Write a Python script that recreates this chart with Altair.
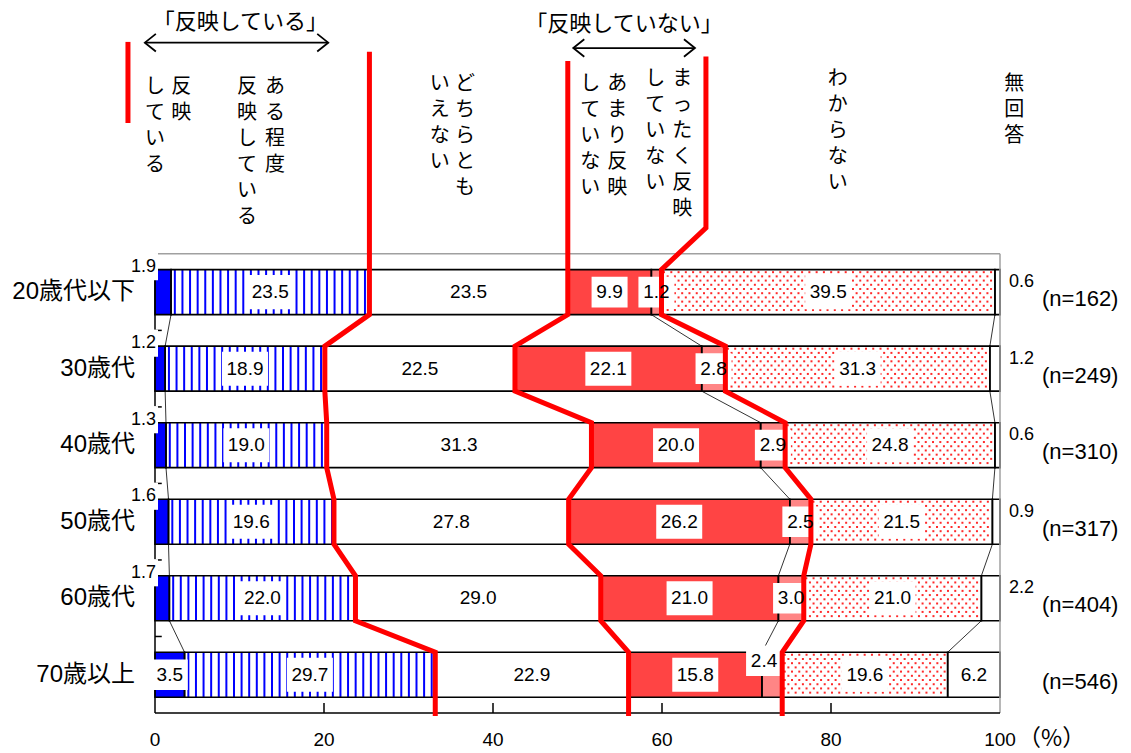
import altair as alt
import numpy as np
import pandas as pd

# ---------------- data ----------------
groups = ["20歳代以下", "30歳代", "40歳代", "50歳代", "60歳代", "70歳以上"]
n_labels = ["(n=162)", "(n=249)", "(n=310)", "(n=317)", "(n=404)", "(n=546)"]
categories = ["反映している", "ある程度反映している", "どちらともいえない",
              "あまり反映していない", "まったく反映していない", "わからない", "無回答"]
hanei = [1.9, 1.2, 1.3, 1.6, 1.7, 3.5]
aru_teido = [23.5, 18.9, 19.0, 19.6, 22.0, 29.7]
dochira = [23.5, 22.5, 31.3, 27.8, 29.0, 22.9]
amari = [9.9, 22.1, 20.0, 26.2, 21.0, 15.8]
mattaku = [1.2, 2.8, 2.9, 2.5, 3.0, 2.4]
wakaranai = [39.5, 31.3, 24.8, 21.5, 21.0, 19.6]
mukaitou = [0.6, 1.2, 0.6, 0.9, 2.2, 6.2]
x_ticks = [0, 20, 40, 60, 80, 100]
bracket_labels = ["「反映している」", "「反映していない」"]
header_columns = ["反映", "している", "ある程度", "反映している", "どちらとも", "いえない",
                  "あまり反映", "していない", "まったく反映", "していない", "わからない", "無回答"]
percent_label = "（%）"

series = [hanei, aru_teido, dochira, amari, mattaku, wakaranai, mukaitou]

# ---------------- layout / style ----------------
FONT = "Liberation Sans, Noto Sans CJK JP"
CJK = "Noto Sans CJK JP"
FILLS = ["#0000ff", "#ffffff", "#ffffff", "#ff4444", "#ff8585", "#ffffff", "#ffffff"]
BAR_TOP, BAR_BOT = 0.206, 0.794
STRIPE_STEP = 0.9            # % units between stripes
DOT_DX, DOT_DY = 0.86, 0.055   # dot lattice of the "わからない" pattern
header_x = [3.1, 0.0, 14.2, 10.9, 36.7, 33.7, 54.7, 51.5, 62.4, 59.2, 80.8, 101.7]
header_y = [-2.31, -2.31, -2.31, -2.31, -2.35, -2.35, -2.35, -2.35, -2.42, -2.42, -2.42, -2.35]
bracket_x = [10.1, 55.5]
bracket_y = [-3.03, -3.0]
arrow_x1 = [-1.2, 49.5]
arrow_x2 = [20.5, 63.9]
arrow_y = [-2.76, -2.69]
line_tops = [-2.64, -2.52, -2.58]
line_d_head_x = 65.2
line_d_bend_y = -0.34
line_bottom = 6.04
marker_x, marker_y1, marker_y2 = -3.2, -2.77, -1.71

# ---------------- derived tables ----------------
rows = []
for i, g in enumerate(groups):
    vals = [s[i] for s in series]
    tot = sum(vals)
    c = 0.0
    for k, cat in enumerate(categories):
        v = vals[k]
        st = c / tot * 100
        c += v
        en = c / tot * 100
        if k == 0 and i < 5:
            place = "topleft"
        elif k == 6 and i < 5:
            place = "right"
        elif k == 4 and i == 5:
            place = "above"
        else:
            place = "in"
        lab = f"{v:.1f}"
        rows.append(dict(group=g, row=i, cat=cat, k=k, value=v, start=st, end=en,
                         mid=(st + en) / 2, y0=i + BAR_TOP, y1=i + BAR_BOT, yc=i + 0.5,
                         label=lab, place=place, nch=len(lab)))
seg = pd.DataFrame(rows)

# vertical stripes ("ある程度反映している")
stripes = []
for _, r in seg[seg.k == 1].iterrows():
    for sx in np.arange(r.start + 0.45, r.end - 0.2, STRIPE_STEP):
        stripes.append(dict(sx=float(sx), y0=r.y0, y1=r.y1))
stripes = pd.DataFrame(stripes)

# dot texture ("わからない")
dots = []
for _, r in seg[seg.k == 5].iterrows():
    nrow = int((r.y1 - r.y0) / DOT_DY)
    for j in range(nrow):
        yy = r.y0 + (j + 0.6) * DOT_DY
        off = (j % 2) * DOT_DX / 2
        for xx in np.arange(r.start + 0.3 + off, r.end - 0.2, DOT_DX):
            dots.append(dict(dx_=float(xx), dy_=float(yy)))
dots = pd.DataFrame(dots)

# thin connector lines between adjacent bars
conn = []
for k in range(6):
    e = seg[seg.k == k].sort_values("row").end.values
    for i in range(len(groups) - 1):
        conn.append(dict(xa=float(e[i]), ya=i + BAR_BOT, xb=float(e[i + 1]), yb=i + 1 + BAR_TOP))
conn = pd.DataFrame(conn)

# red guide lines
b_low = seg[seg.k == 1].sort_values("row").end.values
b_mid = seg[seg.k == 2].sort_values("row").end.values
b_high = seg[seg.k == 4].sort_values("row").end.values
red = []


def add_path(name, bounds, head):
    pts = list(head)
    for i, b in enumerate(bounds):
        pts += [(float(b), i + BAR_TOP), (float(b), i + BAR_BOT)]
    pts.append((float(bounds[-1]), line_bottom))
    for o, (x, y) in enumerate(pts):
        red.append(dict(line=name, o=o, x=float(x), y=float(y)))


add_path("B", b_low, [(b_low[0], line_tops[0])])
add_path("C", b_mid, [(b_mid[0], line_tops[1])])
add_path("D", b_high, [(line_d_head_x, line_tops[2]), (line_d_head_x, line_d_bend_y)])
red.append(dict(line="A", o=0, x=marker_x, y=marker_y1))
red.append(dict(line="A", o=1, x=marker_x, y=marker_y2))
red = pd.DataFrame(red)

# plot frame, axis lines and ticks
frame = [dict(x=0, x2=100, y=0, y2=0, c="#a0a0a0"), dict(x=100, x2=100, y=0, y2=6, c="#a0a0a0"),
         dict(x=0, x2=0, y=0, y2=6, c="black"), dict(x=0, x2=100, y=6, y2=6, c="black")]
for t in range(1, 6):
    frame.append(dict(x=0, x2=0.8, y=t, y2=t, c="black"))
for t in x_ticks[1:-1]:
    frame.append(dict(x=t, x2=t, y=5.87, y2=6, c="black"))
frame = pd.DataFrame(frame)

ticks = pd.DataFrame(dict(t=x_ticks, lab=[str(t) for t in x_ticks], y=[6] * len(x_ticks)))
header = pd.DataFrame(dict(text=["\n".join(list(h)) for h in header_columns], x=header_x, y=header_y))
brackets = pd.DataFrame(dict(text=bracket_labels, x=bracket_x, y=bracket_y))
arrows = pd.DataFrame(dict(x1=arrow_x1, x2=arrow_x2, y=arrow_y))
grp = pd.DataFrame(dict(group=groups, n=n_labels, yc=[i + 0.5 for i in range(len(groups))],
                        x0=[0] * len(groups), x100=[100] * len(groups)))
pct = pd.DataFrame(dict(text=[percent_label], x=[100], y=[6]))

XS = alt.Scale(domain=[0, 100], nice=False, zero=False)
YS = alt.Scale(domain=[-3.2, 6], reverse=True, nice=False, zero=False)


def X(f):
    return alt.X(f, type="quantitative", scale=XS, axis=None)


def Y(f):
    return alt.Y(f, type="quantitative", scale=YS, axis=None)


frame_layer = alt.Chart(frame).mark_rule(strokeWidth=1.5).encode(
    x=X("x:Q"), x2="x2:Q", y=Y("y:Q"), y2="y2:Q",
    color=alt.Color("c:N", scale=None))

bars = alt.Chart(seg).mark_rect(strokeWidth=0).encode(
    x=X("start:Q"), x2="end:Q", y=Y("y0:Q"), y2="y1:Q",
    fill=alt.Fill("cat:N", scale=alt.Scale(domain=categories, range=FILLS), legend=None))

stripe_layer = alt.Chart(stripes).mark_rule(color="#0000ff", strokeWidth=2).encode(
    x=X("sx:Q"), y=Y("y0:Q"), y2="y1:Q")

dot_layer = alt.Chart(dots).mark_square(color="#ff2a2a", size=4, opacity=1).encode(
    x=X("dx_:Q"), y=Y("dy_:Q"))

outline = alt.Chart(seg).mark_rect(fill="transparent", stroke="black", strokeWidth=1.6).encode(
    x=X("start:Q"), x2="end:Q", y=Y("y0:Q"), y2="y1:Q")

conn_layer = alt.Chart(conn).mark_rule(color="black", strokeWidth=0.8).encode(
    x=X("xa:Q"), x2="xb:Q", y=Y("ya:Q"), y2="yb:Q")

red_layer = alt.Chart(red).mark_line(color="#ff0000", strokeWidth=5, strokeJoin="miter").encode(
    x=X("x:Q"), y=Y("y:Q"), detail="line:N", order="o:Q")

BOX4 = "M-1,-0.74L1,-0.74L1,0.74L-1,0.74Z"
BOX3 = "M-1,-0.85L1,-0.85L1,0.85L-1,0.85Z"
inside = seg[seg.place == "in"]
box_in4 = alt.Chart(inside[inside.nch == 4]).mark_point(
    shape=BOX4, filled=True, fill="white", opacity=1, size=46 ** 2, strokeWidth=0).encode(
    x=X("mid:Q"), y=Y("yc:Q"))
box_in3 = alt.Chart(inside[inside.nch == 3]).mark_point(
    shape=BOX3, filled=True, fill="white", opacity=1, size=36 ** 2, strokeWidth=0).encode(
    x=X("mid:Q"), y=Y("yc:Q"))
box_above = alt.Chart(seg[seg.place == "above"]).mark_point(
    shape=BOX3, filled=True, fill="white", opacity=1, size=36 ** 2, strokeWidth=0,
    xOffset=-8, yOffset=-14).encode(x=X("mid:Q"), y=Y("yc:Q"))
box_tl = alt.Chart(seg[seg.place == "topleft"]).mark_point(
    shape=BOX3, filled=True, fill="white", opacity=1, size=32 ** 2, strokeWidth=0,
    xOffset=-13, yOffset=-3).encode(x=X("start:Q"), y=Y("y0:Q"))

txt_in = alt.Chart(inside).mark_text(font=FONT, fontSize=19, color="black").encode(
    x=X("mid:Q"), y=Y("yc:Q"), text="label:N")
txt_above = alt.Chart(seg[seg.place == "above"]).mark_text(
    font=FONT, fontSize=19, color="black", dx=-8, dy=-14).encode(
    x=X("mid:Q"), y=Y("yc:Q"), text="label:N")
txt_tl = alt.Chart(seg[seg.place == "topleft"]).mark_text(
    font=FONT, fontSize=18, color="black", align="right", dy=-3, dx=1).encode(
    x=X("start:Q"), y=Y("y0:Q"), text="label:N")
txt_right = alt.Chart(seg[seg.place == "right"]).mark_text(
    font=FONT, fontSize=18, color="black", align="left", dx=9, dy=-10).encode(
    x=X("end:Q"), y=Y("yc:Q"), text="label:N")

grp_txt = alt.Chart(grp).mark_text(font=FONT, fontSize=24, color="black", align="right", dx=-20).encode(
    x=X("x0:Q"), y=Y("yc:Q"), text="group:N")
n_txt = alt.Chart(grp).mark_text(font=FONT, fontSize=22, color="black", align="left", dx=42, dy=7).encode(
    x=X("x100:Q"), y=Y("yc:Q"), text="n:N")
tick_txt = alt.Chart(ticks).mark_text(font=FONT, fontSize=19, color="black", dy=27).encode(
    x=X("t:Q"), y=Y("y:Q"), text="lab:N")
pct_txt = alt.Chart(pct).mark_text(font=CJK, fontSize=23, color="black", align="left",
                                   dx=18, dy=26).encode(
    x=X("x:Q"), y=Y("y:Q"), text="text:N")

header_txt = alt.Chart(header).mark_text(font=FONT, fontSize=20, color="black", baseline="top",
                                         lineHeight=26, lineBreak="\n").encode(
    x=X("x:Q"), y=Y("y:Q"), text="text:N")
bracket_txt = alt.Chart(brackets).mark_text(font=FONT, fontSize=22, color="black").encode(
    x=X("x:Q"), y=Y("y:Q"), text="text:N")
arrow_line = alt.Chart(arrows).mark_rule(color="black", strokeWidth=1.8).encode(
    x=X("x1:Q"), x2="x2:Q", y=Y("y:Q"))
arrow_l = alt.Chart(arrows).mark_point(shape="M1,-0.8L0,0L1,0.8", filled=False, stroke="black",
                                       strokeWidth=1.8, opacity=1, size=22 ** 2).encode(
    x=X("x1:Q"), y=Y("y:Q"))
arrow_r = alt.Chart(arrows).mark_point(shape="M-1,-0.8L0,0L-1,0.8", filled=False, stroke="black",
                                       strokeWidth=1.8, opacity=1, size=22 ** 2).encode(
    x=X("x2:Q"), y=Y("y:Q"))

chart = alt.layer(
    bars, stripe_layer, dot_layer, outline, frame_layer, conn_layer,
    box_in4, box_in3, box_above, box_tl, red_layer,
    txt_in, txt_above, txt_tl, txt_right, grp_txt, n_txt, tick_txt, pct_txt,
    header_txt, bracket_txt, arrow_line, arrow_l, arrow_r,
).properties(
    width=845, height=704, background="white",
    padding={"left": 147, "top": 1, "right": 123, "bottom": 40},
    autosize=alt.AutoSizeParams(type="none"),
).configure_view(stroke=None)

chart.save("out.html", embed_options={"renderer": "svg", "actions": False})
